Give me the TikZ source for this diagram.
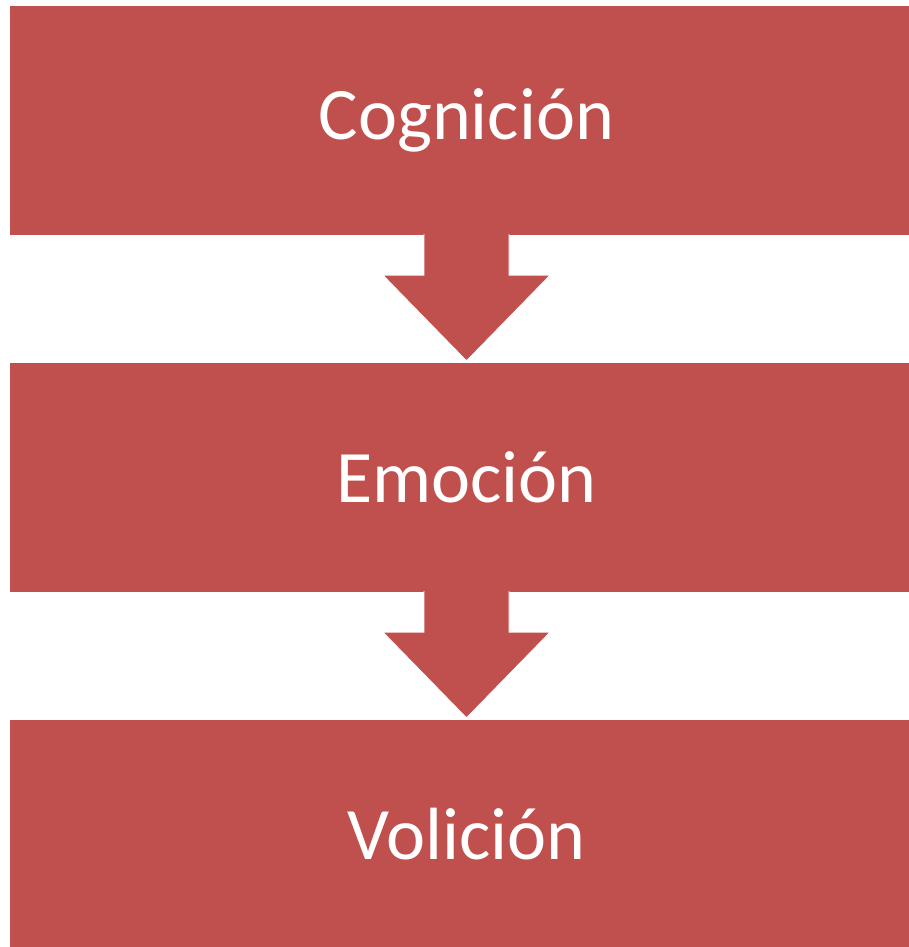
\documentclass[tikz,border=0pt]{standalone}
\usepackage{fontspec}
\setmainfont{Carlito}
\usetikzlibrary{calc}
\definecolor{rojo}{HTML}{C0504D}
\begin{document}
\begin{tikzpicture}[x=1pt,y=-1pt]
		\tikzset{caja/.style={fill=rojo,text=white,minimum width=899pt,minimum height=229pt,inner sep=0pt,font=\fontsize{74}{89}\selectfont,execute at begin node=\hspace*{14pt}}}
		\tikzset{flecha/.style={fill=rojo,draw=white,line width=0.8pt,line join=miter}}
		\useasboundingbox (0,0) rectangle (909,947);
		\node[caja] (cog) at (459.5,120.5) {Cognición};
		\node[caja] (emo) at (459.5,477.5) {Emoción};
		\node[caja,minimum height=228pt] (vol) at (459.5,834) {Volición};
		% flechas entre las cajas
		\def\flecha#1#2{\draw[flecha] ($(#1.south)+(-35.5,-1)$) -- ($(#1.south)+(-35.5,40)$) -- ($(#1.south)+(-76.5,40)$)
			-- ($(#2.north)+(7,-2)$) -- ($(#1.south)+(90.5,40)$) -- ($(#1.south)+(49.5,40)$) -- ($(#1.south)+(49.5,-1)$);}
		\flecha{cog}{emo}
		\flecha{emo}{vol}
	\end{tikzpicture}
\end{document}
